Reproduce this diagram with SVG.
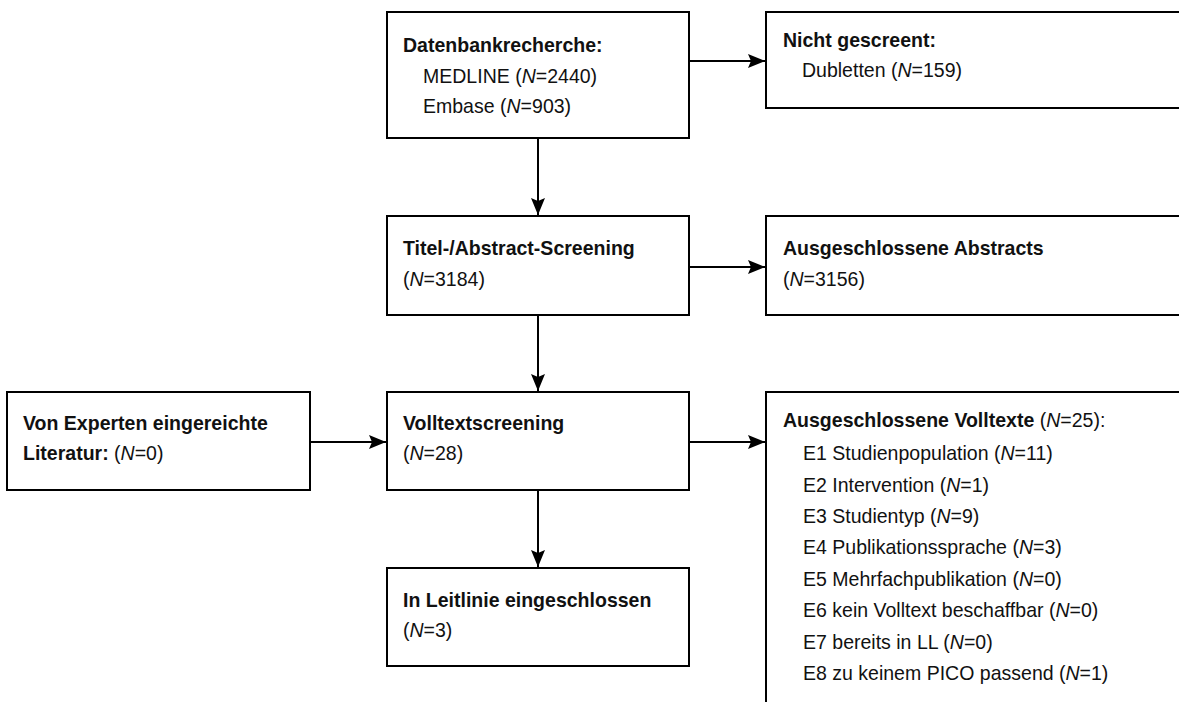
<svg xmlns="http://www.w3.org/2000/svg" width="1179" height="702" viewBox="0 0 1179 702">
  <style>
    .box { fill: #ffffff; stroke: #000000; stroke-width: 2; }
    .edge { fill: none; stroke: #000000; stroke-width: 2; }
    text { font-family: "Liberation Sans", Arial, sans-serif; font-size: 21px; fill: #111111; }
    .b { font-weight: bold; }
    .i { font-style: italic; }
  </style>
  <defs>
    <marker id="arrow" viewBox="0 0 17 14" refX="17" refY="7" markerWidth="17" markerHeight="14" markerUnits="userSpaceOnUse" orient="auto">
      <path d="M0,0 L17,7 L0,14 L3,7 Z" fill="#000000"/>
    </marker>
  </defs>

  <rect width="1179" height="702" fill="#ffffff"/>

  <!-- connectors -->
  <g id="connectors">
    <line class="edge" x1="689" y1="61" x2="765" y2="61" marker-end="url(#arrow)"/>
    <line class="edge" x1="538" y1="138" x2="538" y2="215" marker-end="url(#arrow)"/>
    <line class="edge" x1="689" y1="267" x2="765" y2="267" marker-end="url(#arrow)"/>
    <line class="edge" x1="538" y1="315" x2="538" y2="391" marker-end="url(#arrow)"/>
    <line class="edge" x1="310" y1="442" x2="386" y2="442" marker-end="url(#arrow)"/>
    <line class="edge" x1="689" y1="442" x2="765" y2="442" marker-end="url(#arrow)"/>
    <line class="edge" x1="538" y1="490" x2="538" y2="567" marker-end="url(#arrow)"/>
  </g>

  <!-- database search -->
  <g id="datenbank">
    <rect class="box" x="387" y="12" width="302" height="126"/>
    <g transform="matrix(0.93 0 0 1 28.21 0)">
      <text x="403" y="52" class="b">Datenbankrecherche:</text>
      <text x="424.5" y="83">MEDLINE (<tspan class="i">N</tspan>=2440)</text>
      <text x="424.5" y="113">Embase (<tspan class="i">N</tspan>=903)</text>
    </g>
  </g>

  <!-- duplicates -->
  <g id="nicht-gescreent">
    <rect class="box" x="766" y="12" width="430" height="96"/>
    <g transform="matrix(0.93 0 0 1 54.81 0)">
      <text x="783" y="47" class="b">Nicht gescreent:</text>
      <text x="803.4" y="77">Dubletten (<tspan class="i">N</tspan>=159)</text>
    </g>
  </g>

  <!-- title/abstract screening -->
  <g id="titel-abstract">
    <rect class="box" x="387" y="216" width="302" height="99"/>
    <g transform="matrix(0.93 0 0 1 28.21 0)">
      <text x="403" y="255.5" class="b">Titel-/Abstract-Screening</text>
      <text x="403" y="286.5">(<tspan class="i">N</tspan>=3184)</text>
    </g>
  </g>

  <!-- excluded abstracts -->
  <g id="ausgeschlossene-abstracts">
    <rect class="box" x="766" y="216" width="430" height="99"/>
    <g transform="matrix(0.93 0 0 1 54.81 0)">
      <text x="783" y="255.5" class="b">Ausgeschlossene Abstracts</text>
      <text x="783" y="286.5">(<tspan class="i">N</tspan>=3156)</text>
    </g>
  </g>

  <!-- expert submissions -->
  <g id="experten">
    <rect class="box" x="7" y="392" width="303" height="98"/>
    <g transform="matrix(0.93 0 0 1 1.61 0)">
      <text x="23" y="430.5" class="b">Von Experten eingereichte</text>
      <text x="23" y="460.5"><tspan class="b">Literatur:</tspan> (<tspan class="i">N</tspan>=0)</text>
    </g>
  </g>

  <!-- full-text screening -->
  <g id="volltextscreening">
    <rect class="box" x="387" y="392" width="302" height="98"/>
    <g transform="matrix(0.93 0 0 1 28.21 0)">
      <text x="403" y="430.5" class="b">Volltextscreening</text>
      <text x="403" y="460.5">(<tspan class="i">N</tspan>=28)</text>
    </g>
  </g>

  <!-- excluded full texts -->
  <g id="ausgeschlossene-volltexte">
    <rect class="box" x="766" y="392" width="430" height="330"/>
    <g transform="matrix(0.93 0 0 1 54.81 0)">
      <text x="783" y="427"><tspan class="b">Ausgeschlossene Volltexte</tspan> (<tspan class="i">N</tspan>=25):</text>
      <text x="804.5" y="460">E1 Studienpopulation (<tspan class="i">N</tspan>=11)</text>
      <text x="804.5" y="491.5">E2 Intervention (<tspan class="i">N</tspan>=1)</text>
      <text x="804.5" y="523">E3 Studientyp (<tspan class="i">N</tspan>=9)</text>
      <text x="804.5" y="554.5">E4 Publikationssprache (<tspan class="i">N</tspan>=3)</text>
      <text x="804.5" y="586">E5 Mehrfachpublikation (<tspan class="i">N</tspan>=0)</text>
      <text x="804.5" y="617.5">E6 kein Volltext beschaffbar (<tspan class="i">N</tspan>=0)</text>
      <text x="804.5" y="649">E7 bereits in LL (<tspan class="i">N</tspan>=0)</text>
      <text x="804.5" y="680.5">E8 zu keinem PICO passend (<tspan class="i">N</tspan>=1)</text>
    </g>
  </g>

  <!-- included in guideline -->
  <g id="eingeschlossen">
    <rect class="box" x="387" y="568" width="302" height="98"/>
    <g transform="matrix(0.93 0 0 1 28.21 0)">
      <text x="403" y="607" class="b">In Leitlinie eingeschlossen</text>
      <text x="403" y="637">(<tspan class="i">N</tspan>=3)</text>
    </g>
  </g>
</svg>
